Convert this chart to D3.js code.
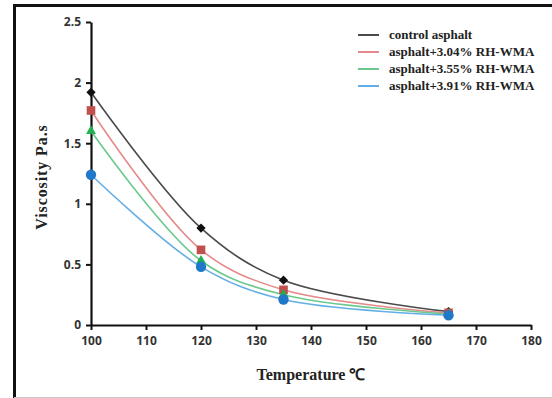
<!DOCTYPE html>
<html>
<head>
<meta charset="utf-8">
<script src="https://cdn.jsdelivr.net/npm/d3@7/dist/d3.min.js"></script>
<style>
  html, body { margin: 0; padding: 0; background: #fff; overflow: hidden; }
  svg { display: block; overflow: hidden; }
</style>
</head>
<body>
<script>
// Viscosity of asphalt binders versus test temperature
const temperatures = [100, 120, 135, 165];
const seriesNames = [
  "control asphalt",
  "asphalt+3.04% RH-WMA",
  "asphalt+3.55% RH-WMA",
  "asphalt+3.91% RH-WMA"
];
const controlAsphalt = [1.92, 0.80, 0.37, 0.11];
const rh304 = [1.77, 0.62, 0.29, 0.10];
const rh355 = [1.60, 0.53, 0.25, 0.09];
const rh391 = [1.24, 0.48, 0.21, 0.08];
const xTicks = [100, 110, 120, 130, 140, 150, 160, 170, 180];
const yTicks = [0, 0.5, 1, 1.5, 2, 2.5];

const W = 552, H = 398;
const svg = d3.select("body").append("svg").attr("width", W).attr("height", H);

// outer frame (top and left edges; the rest runs off the page)
svg.append("path").attr("d", `M14.5,${H} V5.5 H${W}`)
  .attr("fill", "none").attr("stroke", "#111").attr("stroke-width", 3);
svg.append("line").attr("x1", 14).attr("x2", W).attr("y1", 397.5).attr("y2", 397.5)
  .attr("stroke", "#c8c8c8").attr("stroke-width", 1);

const x = d3.scaleLinear().domain([100, 180]).range([91, 531]);
const y = d3.scaleLinear().domain([0, 2.5]).range([325, 22]);

const tickFont = "'Open Sans', 'Liberation Sans', sans-serif";
const titleFont = "'Liberation Serif', 'Times New Roman', serif";

// axes
const xAxis = svg.append("g").attr("transform", `translate(0,${y(0)})`)
  .call(d3.axisBottom(x).tickValues(xTicks).tickSize(5).tickSizeOuter(0).tickPadding(6));
const yAxis = svg.append("g").attr("transform", `translate(${x(100)},0)`)
  .call(d3.axisLeft(y).tickValues(yTicks).tickSize(5).tickSizeOuter(0).tickPadding(5)
    .tickFormat(d3.format("")));
[xAxis, yAxis].forEach(g => {
  g.select(".domain").attr("stroke", "#111").attr("stroke-width", 2.2);
  g.selectAll(".tick line").attr("stroke", "#111").attr("stroke-width", 2);
  g.selectAll(".tick text").attr("fill", "#333").attr("font-family", tickFont)
    .attr("font-weight", "bold").attr("font-size", 12);
});

// axis titles
svg.append("text").attr("x", 311).attr("y", 380).attr("text-anchor", "middle")
  .attr("font-family", titleFont).attr("font-weight", "bold").attr("font-size", 16)
  .attr("fill", "#222").text("Temperature ℃");
svg.append("text").attr("transform", "translate(47,177) rotate(-90)")
  .attr("text-anchor", "middle").attr("font-family", titleFont).attr("font-weight", "bold")
  .attr("font-size", 16).attr("letter-spacing", 0.9).attr("fill", "#222")
  .text("Viscosity  Pa.s");

const series = [
  { name: seriesNames[0], values: controlAsphalt, line: "#4a4a4a", mark: "#111", shape: d3.symbolDiamond2, size: 55 },
  { name: seriesNames[1], values: rh304, line: "#e58a8a", mark: "#c0504d", shape: d3.symbolSquare2, size: 95 },
  { name: seriesNames[2], values: rh355, line: "#6cc98e", mark: "#20b050", shape: d3.symbolTriangle2, size: 70 },
  { name: seriesNames[3], values: rh391, line: "#64aee6", mark: "#1f78c8", shape: d3.symbolCircle, size: 85 }
];

const line = d3.line().x(d => x(d[0])).y(d => y(d[1])).curve(d3.curveCatmullRom.alpha(0.5));

series.forEach(s => {
  const pts = temperatures.map((t, i) => [t, s.values[i]]);
  svg.append("path").datum(pts).attr("d", line).attr("fill", "none")
    .attr("stroke", s.line).attr("stroke-width", 1.6);
});
series.forEach(s => {
  const pts = temperatures.map((t, i) => [t, s.values[i]]);
  svg.append("g").selectAll("path").data(pts).join("path")
    .attr("transform", d => `translate(${x(d[0])},${y(d[1])})`)
    .attr("d", d3.symbol().type(s.shape).size(s.size))
    .attr("fill", s.mark);
});

// legend
const legend = svg.append("g");
series.forEach((s, i) => {
  const ly = 35 + i * 17;
  legend.append("line").attr("x1", 358).attr("x2", 379).attr("y1", ly).attr("y2", ly)
    .attr("stroke", s.line).attr("stroke-width", 2);
  legend.append("text").attr("x", 389).attr("y", ly).attr("dy", "0.33em")
    .attr("font-family", titleFont).attr("font-weight", "bold").attr("font-size", 13)
    .attr("fill", "#222").text(s.name);
});
</script>
</body>
</html>
